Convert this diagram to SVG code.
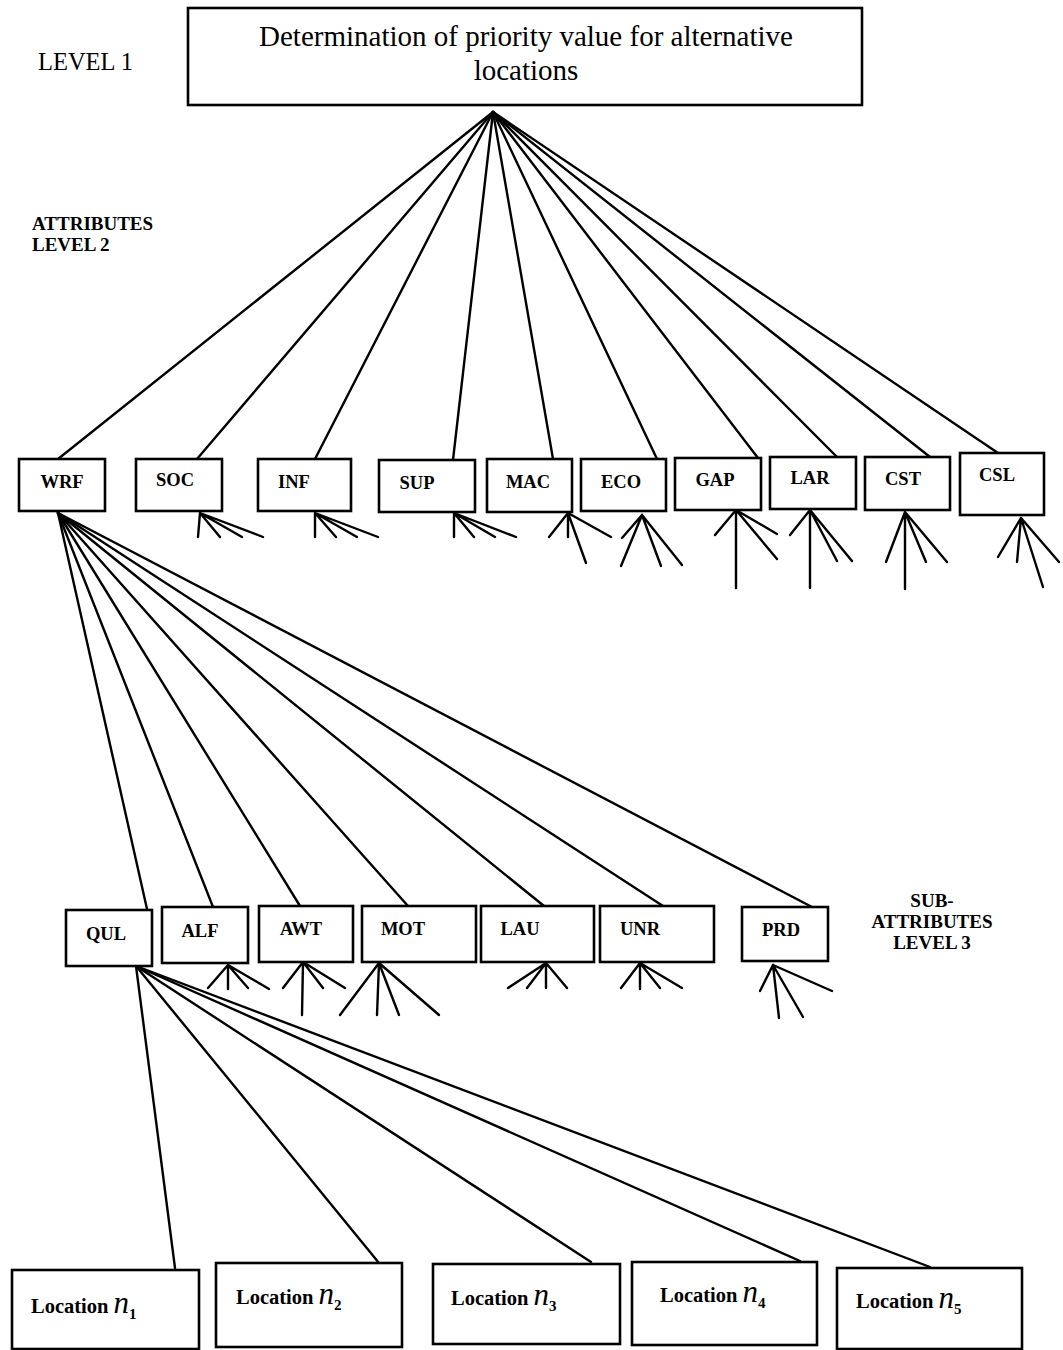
<svg xmlns="http://www.w3.org/2000/svg" width="1063" height="1350" viewBox="0 0 1063 1350">
  <style>
    .box { fill: #fff; stroke: #000; stroke-width: 2.6; }
    .ln { stroke: #000; stroke-width: 2.4; stroke-linecap: round; fill: none; }
    .title { font-family: "Liberation Serif", "Times New Roman", serif; font-size: 29px; fill: #000; }
    .lvl { font-family: "Liberation Serif", "Times New Roman", serif; font-size: 24.5px; fill: #000; }
    .tag { font-family: "Liberation Serif", "Times New Roman", serif; font-size: 19px; font-weight: bold; fill: #000; }
    .lab { font-family: "Liberation Serif", "Times New Roman", serif; font-size: 18.5px; font-weight: bold; fill: #000; }
    .loc { font-family: "Liberation Serif", "Times New Roman", serif; font-size: 20.5px; font-weight: bold; fill: #000; }
    .n { font-family: "Liberation Serif", "Times New Roman", serif; font-size: 31px; font-style: italic; font-weight: normal; fill: #000; }
    .sub { font-family: "Liberation Serif", "Times New Roman", serif; font-size: 15px; font-weight: bold; font-style: normal; fill: #000; }
  </style>

  <!-- level captions -->
  <g id="captions">
    <text class="lvl" x="38" y="70">LEVEL 1</text>
    <text class="tag" x="32" y="230">ATTRIBUTES</text>
    <text class="tag" x="32" y="251">LEVEL 2</text>
    <text class="tag" x="932" y="907" text-anchor="middle">SUB-</text>
    <text class="tag" x="932" y="928" text-anchor="middle">ATTRIBUTES</text>
    <text class="tag" x="932" y="949" text-anchor="middle">LEVEL 3</text>
  </g>

  <!-- connectors -->
  <g id="connectors" class="ln">
    <!-- goal to attributes -->
    <line x1="493" y1="112" x2="58" y2="459"/>
    <line x1="493" y1="112" x2="197" y2="459"/>
    <line x1="493" y1="112" x2="315" y2="459"/>
    <line x1="493" y1="112" x2="453" y2="460"/>
    <line x1="493" y1="112" x2="553" y2="459"/>
    <line x1="493" y1="112" x2="657" y2="459"/>
    <line x1="493" y1="112" x2="758" y2="458"/>
    <line x1="493" y1="112" x2="837" y2="457"/>
    <line x1="493" y1="112" x2="930" y2="457"/>
    <line x1="493" y1="112" x2="998" y2="453"/>

    <!-- attribute fans -->
    <path d="M200 513L198 537M200 513L220 537M200 513L242 537M200 513L263 537"/>
    <path d="M315 513L315 537M315 513L336 537M315 513L357 537M315 513L378 537"/>
    <path d="M454 513L454 537M454 513L474 537M454 513L495 537M454 513L516 537"/>
    <path d="M568 513L549 537M568 513L568 537M568 513L586 563M568 513L611 537"/>
    <path d="M642 515L622 538M642 515L621 566M642 515L661 566M642 515L682 565"/>
    <path d="M736 510L715 535M736 510L736 588M736 510L777 559M736 510L777 534"/>
    <path d="M810 510L790 535M810 510L810 588M810 510L837 561M810 510L852 561"/>
    <path d="M905 512L886 562M905 512L905 589M905 512L926 562M905 512L947 562"/>
    <path d="M1021 518L998 557M1021 518L1017 562M1021 518L1043 587M1021 518L1059 562"/>

    <!-- WRF to sub-attributes -->
    <line x1="58" y1="513" x2="147" y2="909"/>
    <line x1="58" y1="513" x2="213" y2="907"/>
    <line x1="58" y1="513" x2="300" y2="906"/>
    <line x1="58" y1="513" x2="408" y2="906"/>
    <line x1="58" y1="513" x2="544" y2="906"/>
    <line x1="58" y1="513" x2="663" y2="906"/>
    <line x1="58" y1="513" x2="812" y2="907"/>

    <!-- sub-attribute fans -->
    <path d="M228 965L208 988M228 965L228 989M228 965L248 988M228 965L269 989"/>
    <path d="M303 962L283 988M303 962L302 1015M303 962L323 988M303 962L345 988"/>
    <path d="M379 963L340 1015M379 963L377 1015M379 963L399 1015M379 963L439 1015"/>
    <path d="M546 963L508 988M546 963L527 988M546 963L546 988M546 963L567 988"/>
    <path d="M640 963L621 988M640 963L640 989M640 963L660 988M640 963L682 988"/>
    <path d="M773 965L760 991M773 965L779 1018M773 965L803 1017M773 965L832 991"/>

    <!-- QUL to locations -->
    <line x1="136" y1="966" x2="175" y2="1268"/>
    <line x1="136" y1="966" x2="379" y2="1263"/>
    <line x1="136" y1="966" x2="591" y2="1262"/>
    <line x1="136" y1="966" x2="800" y2="1261"/>
    <line x1="136" y1="966" x2="930" y2="1267"/>
  </g>

  <!-- goal -->
  <g id="goal">
    <rect class="box" x="188" y="8" width="674" height="97"/>
    <text class="title" x="526" y="46" text-anchor="middle">Determination of priority value for alternative</text>
    <text class="title" x="526" y="80" text-anchor="middle">locations</text>
  </g>

  <!-- attributes -->
  <g id="WRF"><rect class="box" x="19" y="459" width="86" height="52"/><text class="lab" x="62" y="488" text-anchor="middle">WRF</text></g>
  <g id="SOC"><rect class="box" x="136" y="459" width="86" height="52"/><text class="lab" x="175" y="486" text-anchor="middle">SOC</text></g>
  <g id="INF"><rect class="box" x="258" y="459" width="93" height="52"/><text class="lab" x="294" y="488" text-anchor="middle">INF</text></g>
  <g id="SUP"><rect class="box" x="379" y="460" width="96" height="52"/><text class="lab" x="417" y="489" text-anchor="middle">SUP</text></g>
  <g id="MAC"><rect class="box" x="487" y="459" width="85" height="53"/><text class="lab" x="528" y="488" text-anchor="middle">MAC</text></g>
  <g id="ECO"><rect class="box" x="581" y="459" width="85" height="52"/><text class="lab" x="621" y="488" text-anchor="middle">ECO</text></g>
  <g id="GAP"><rect class="box" x="675" y="458" width="86" height="52"/><text class="lab" x="715" y="486" text-anchor="middle">GAP</text></g>
  <g id="LAR"><rect class="box" x="770" y="457" width="86" height="52"/><text class="lab" x="810" y="484" text-anchor="middle">LAR</text></g>
  <g id="CST"><rect class="box" x="865" y="457" width="85" height="53"/><text class="lab" x="903" y="485" text-anchor="middle">CST</text></g>
  <g id="CSL"><rect class="box" x="960" y="453" width="84" height="62"/><text class="lab" x="997" y="481" text-anchor="middle">CSL</text></g>

  <!-- sub-attributes -->
  <g id="QUL"><rect class="box" x="66" y="910" width="86" height="56"/><text class="lab" x="106" y="940" text-anchor="middle">QUL</text></g>
  <g id="ALF"><rect class="box" x="162" y="907" width="86" height="56"/><text class="lab" x="200" y="937" text-anchor="middle">ALF</text></g>
  <g id="AWT"><rect class="box" x="259" y="906" width="94" height="56"/><text class="lab" x="301" y="935" text-anchor="middle">AWT</text></g>
  <g id="MOT"><rect class="box" x="362" y="906" width="114" height="56"/><text class="lab" x="403" y="935" text-anchor="middle">MOT</text></g>
  <g id="LAU"><rect class="box" x="481" y="906" width="113" height="56"/><text class="lab" x="520" y="935" text-anchor="middle">LAU</text></g>
  <g id="UNR"><rect class="box" x="600" y="906" width="114" height="56"/><text class="lab" x="640" y="935" text-anchor="middle">UNR</text></g>
  <g id="PRD"><rect class="box" x="742" y="907" width="86" height="54"/><text class="lab" x="781" y="936" text-anchor="middle">PRD</text></g>

  <!-- alternatives -->
  <g id="loc1"><rect class="box" x="12" y="1270" width="187" height="79"/>
    <text class="loc" x="31" y="1313">Location <tspan class="n">n</tspan><tspan class="sub" dy="6">1</tspan></text></g>
  <g id="loc2"><rect class="box" x="216" y="1263" width="186" height="84"/>
    <text class="loc" x="236" y="1304">Location <tspan class="n">n</tspan><tspan class="sub" dy="6">2</tspan></text></g>
  <g id="loc3"><rect class="box" x="433" y="1264" width="187" height="80"/>
    <text class="loc" x="451" y="1305">Location <tspan class="n">n</tspan><tspan class="sub" dy="6">3</tspan></text></g>
  <g id="loc4"><rect class="box" x="632" y="1262" width="185" height="83"/>
    <text class="loc" x="660" y="1302">Location <tspan class="n">n</tspan><tspan class="sub" dy="6">4</tspan></text></g>
  <g id="loc5"><rect class="box" x="837" y="1268" width="185" height="81"/>
    <text class="loc" x="856" y="1308">Location <tspan class="n">n</tspan><tspan class="sub" dy="6">5</tspan></text></g>
</svg>
